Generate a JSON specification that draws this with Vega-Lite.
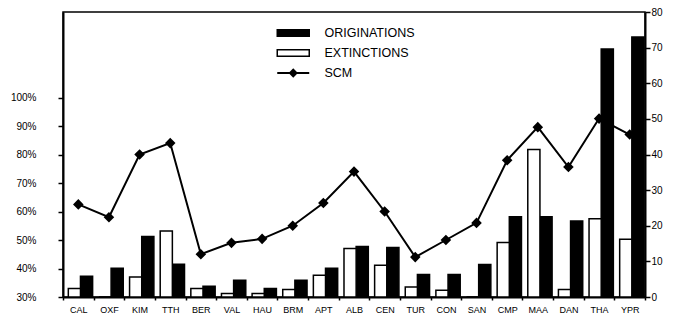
{
  "$schema": "https://vega.github.io/schema/vega-lite/v6.json",
  "width": 582,
  "height": 285,
  "autosize": {"type": "none"},
  "padding": {"left": 63, "top": 12, "right": 30, "bottom": 23},
  "background": "white",
  "config": {
    "font": "Liberation Sans",
    "view": {"stroke": "black", "strokeWidth": 1.5},
    "axis": {
      "grid": false,
      "domainColor": "black",
      "domainWidth": 2,
      "tickColor": "black",
      "tickWidth": 1.5,
      "labelColor": "black",
      "labelFont": "Liberation Sans",
      "title": null
    },
    "legend": {"padding": 0, "labelFont": "Liberation Sans", "labelColor": "black"}
  },
  "data": {
    "values": [
      {"period": "CAL", "EXTINCTIONS": 2.4, "ORIGINATIONS": 5.8, "SCM": 62.5},
      {"period": "OXF", "EXTINCTIONS": 0, "ORIGINATIONS": 8.1, "SCM": 58},
      {"period": "KIM", "EXTINCTIONS": 5.6, "ORIGINATIONS": 17.0, "SCM": 80},
      {"period": "TTH", "EXTINCTIONS": 18.5, "ORIGINATIONS": 9.2, "SCM": 84},
      {"period": "BER", "EXTINCTIONS": 2.4, "ORIGINATIONS": 3.0, "SCM": 45},
      {"period": "VAL", "EXTINCTIONS": 1.0, "ORIGINATIONS": 4.7, "SCM": 49},
      {"period": "HAU", "EXTINCTIONS": 1.0, "ORIGINATIONS": 2.4, "SCM": 50.4},
      {"period": "BRM", "EXTINCTIONS": 2.1, "ORIGINATIONS": 4.7, "SCM": 55},
      {"period": "APT", "EXTINCTIONS": 6.1, "ORIGINATIONS": 8.1, "SCM": 63},
      {"period": "ALB", "EXTINCTIONS": 13.6, "ORIGINATIONS": 14.2, "SCM": 74},
      {"period": "CEN", "EXTINCTIONS": 8.9, "ORIGINATIONS": 13.9, "SCM": 60},
      {"period": "TUR", "EXTINCTIONS": 2.8, "ORIGINATIONS": 6.3, "SCM": 44},
      {"period": "CON", "EXTINCTIONS": 1.9, "ORIGINATIONS": 6.3, "SCM": 50},
      {"period": "SAN", "EXTINCTIONS": 0, "ORIGINATIONS": 9.1, "SCM": 56},
      {"period": "CMP", "EXTINCTIONS": 15.3, "ORIGINATIONS": 22.5, "SCM": 78},
      {"period": "MAA", "EXTINCTIONS": 41.4, "ORIGINATIONS": 22.5, "SCM": 89.6},
      {"period": "DAN", "EXTINCTIONS": 2.1, "ORIGINATIONS": 21.3, "SCM": 75.6},
      {"period": "THA", "EXTINCTIONS": 22.0, "ORIGINATIONS": 69.6, "SCM": 92.6},
      {"period": "YPR", "EXTINCTIONS": 16.2, "ORIGINATIONS": 73.0, "SCM": 87}
    ]
  },
  "layer": [
    {
      "mark": {
        "type": "line",
        "strokeWidth": 2,
        "point": {"filled": true, "shape": "diamond", "size": 60, "color": "black"}
      },
      "encoding": {
        "x": {
          "field": "period",
          "type": "nominal",
          "sort": null,
          "scale": {"paddingInner": 0, "paddingOuter": 0},
          "axis": {
            "labelAngle": 0,
            "labelFontSize": 9,
            "labelFont": "Liberation Sans",
            "tickBand": "extent",
            "tickSize": 3,
            "labelPadding": 5,
            "encode": {"ticks": {"update": {"y": {"value": -4}}}}
          }
        },
        "y": {
          "field": "SCM",
          "type": "quantitative",
          "scale": {"domain": [30, 130], "nice": false, "zero": false},
          "axis": {
            "orient": "left",
            "values": [30, 40, 50, 60, 70, 80, 90, 100],
            "labelExpr": "datum.value + '%'",
            "labelFontSize": 10,
            "tickSize": 5,
            "labelPadding": 22,
            "encode": {"ticks": {"update": {"x": {"value": 5}}}}
          }
        },
        "stroke": {
          "datum": "SCM",
          "scale": {"range": ["black"]},
          "legend": {
            "orient": "none",
            "legendX": 224,
            "legendY": 54.75,
            "title": null,
            "symbolType": "M-3.2,0L3.2,0M0,-0.65L0.65,0L0,0.65L-0.65,0Z",
            "symbolSize": 100,
            "symbolStrokeWidth": 2,
            "symbolFillColor": "black",
            "labelFontSize": 12.5,
            "labelOffset": 25,
            "encode": {"symbols": {"update": {"fill": {"value": "black"}}}}
          }
        }
      }
    },
    {
      "transform": [{"fold": ["ORIGINATIONS", "EXTINCTIONS"], "as": ["series", "count"]}],
      "mark": {"type": "bar", "stroke": "black", "strokeWidth": 1.5},
      "encoding": {
        "x": {
          "field": "period",
          "type": "nominal",
          "sort": null,
          "scale": {"paddingInner": 0, "paddingOuter": 0}
        },
        "xOffset": {
          "field": "series",
          "type": "nominal",
          "scale": {"domain": ["EXTINCTIONS", "ORIGINATIONS"], "paddingInner": 0, "paddingOuter": 0.26, "align": 0.84}
        },
        "y": {
          "field": "count",
          "type": "quantitative",
          "scale": {"domain": [0, 80], "nice": false},
          "axis": {
            "orient": "right",
            "values": [0, 10, 20, 30, 40, 50, 60, 70, 80],
            "labelFontSize": 10,
            "tickSize": 5,
            "labelPadding": 1
          }
        },
        "fill": {
          "field": "series",
          "type": "nominal",
          "scale": {"domain": ["ORIGINATIONS", "EXTINCTIONS"], "range": ["black", "white"]},
          "legend": {
            "orient": "none",
            "legendX": 224,
            "legendY": 14.75,
            "title": null,
            "symbolType": "M-3.2,-0.65L3.2,-0.65L3.2,0.65L-3.2,0.65Z",
            "symbolSize": 100,
            "symbolStrokeColor": "black",
            "symbolStrokeWidth": 1.5,
            "symbolOpacity": 1,
            "labelFontSize": 12.5,
            "labelOffset": 25,
            "rowPadding": 7
          }
        }
      }
    }
  ],
  "resolve": {"scale": {"y": "independent"}}
}
